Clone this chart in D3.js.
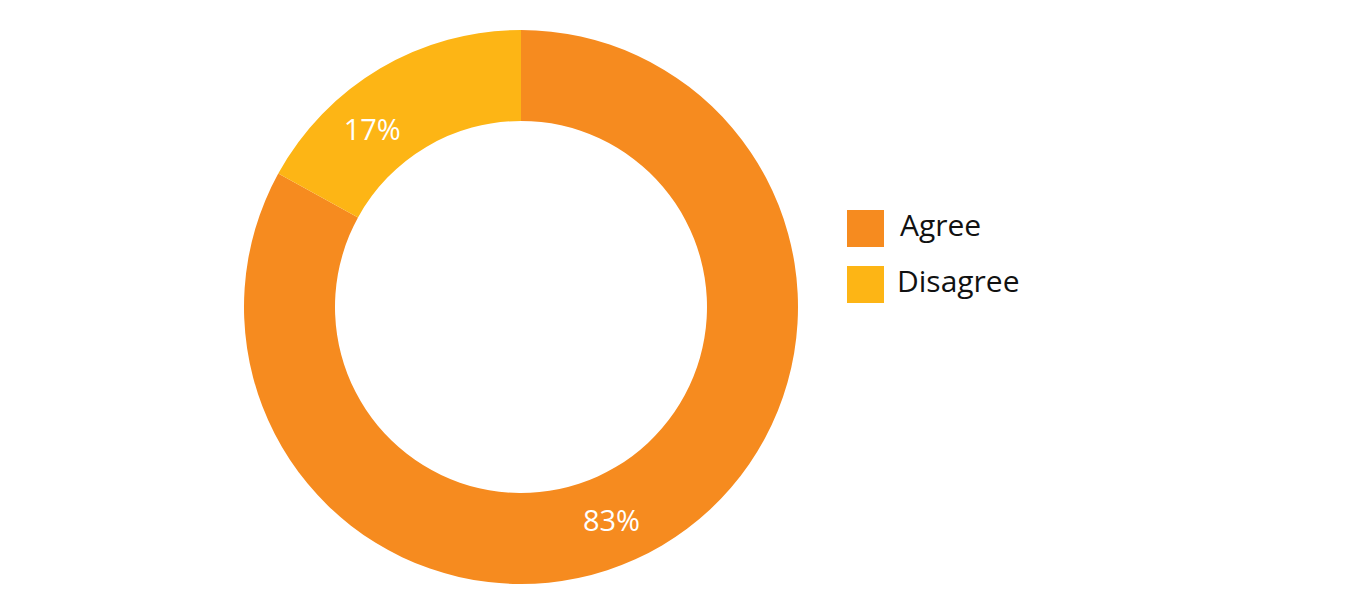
<!DOCTYPE html>
<html>
<head>
<meta charset="utf-8">
<script src="https://cdn.jsdelivr.net/npm/d3@7"></script>
<style>
  html, body { margin: 0; padding: 0; background: #fff; }
  svg { display: block; font-family: "Open Sans", "Noto Sans", sans-serif; }
</style>
</head>
<body>
<svg id="canvas" width="1349" height="615"></svg>
<script>
// Chart data
var CATEGORIES = ['Agree', 'Disagree'];
var VALUES = [83, 17];
var LABELS = ['83%', '17%'];
var COLORS = ['#F68B1F', '#FDB515'];

var canvas = d3.select('#canvas');

// Donut geometry
var cx = 521, cy = 307;
var outerR = 277, innerR = 186;

var pie = d3.pie().sort(null).value(function (d) { return d; });
var arc = d3.arc().innerRadius(innerR).outerRadius(outerR);

var arcs = pie(VALUES);

var g = canvas.append('g')
  .attr('transform', 'translate(' + cx + ',' + cy + ')');

g.selectAll('path.slice')
  .data(arcs)
  .enter()
  .append('path')
  .attr('class', 'slice')
  .attr('d', arc)
  .attr('fill', function (d, i) { return COLORS[i]; });

// Labels sit a bit off the mid angle of each slice
var labelShift = [7.6, -9.4];
var labelR = (innerR + outerR) / 2;

g.selectAll('text.pct')
  .data(arcs)
  .enter()
  .append('text')
  .attr('class', 'pct')
  .attr('x', function (d, i) {
    var a = (d.startAngle + d.endAngle) / 2 + labelShift[i] * Math.PI / 180;
    return labelR * Math.sin(a);
  })
  .attr('y', function (d, i) {
    var a = (d.startAngle + d.endAngle) / 2 + labelShift[i] * Math.PI / 180;
    return -labelR * Math.cos(a);
  })
  .attr('dy', '0.36em')
  .attr('text-anchor', 'middle')
  .attr('fill', '#fff')
  .attr('font-size', 29)
  .text(function (d, i) { return LABELS[i]; });

// Legend
var legend = canvas.append('g')
  .attr('transform', 'translate(847,210)');

var item = legend.selectAll('g.item')
  .data(CATEGORIES)
  .enter()
  .append('g')
  .attr('class', 'item')
  .attr('transform', function (d, i) { return 'translate(0,' + (i * 56) + ')'; });

item.append('rect')
  .attr('width', 37)
  .attr('height', 37)
  .attr('fill', function (d, i) { return COLORS[i]; });

item.append('text')
  .attr('x', function (d, i) { return i === 0 ? 53 : 50; })
  .attr('y', 15)
  .attr('dy', '0.36em')
  .attr('fill', '#111')
  .attr('font-size', 30)
  .text(function (d) { return d; });
</script>
</body>
</html>
